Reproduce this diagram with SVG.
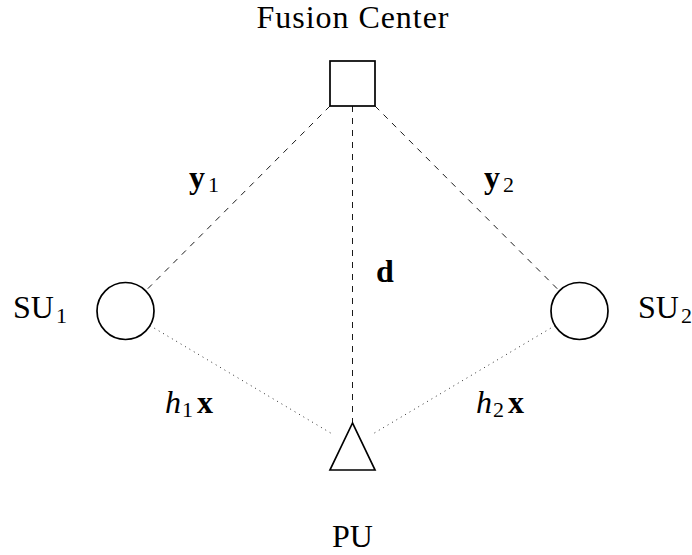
<svg xmlns="http://www.w3.org/2000/svg" width="692" height="555" viewBox="0 0 692 555">
<style>
.node{fill:#fff;stroke:#000;stroke-width:1.7}
.dash{stroke:#000;stroke-width:0.9;stroke-dasharray:6,6;fill:none}
.dot{stroke:#000;stroke-width:0.9;stroke-dasharray:0.9,4.2;fill:none}
text{font-family:"Liberation Serif","DejaVu Serif",serif;font-size:32px;fill:#000}
.sub{font-size:22px;font-weight:normal;font-style:normal}
.b{font-weight:bold}
.i{font-style:italic}
</style>
<rect width="692" height="555" fill="#fff"/>
<g id="connectors">
<line class="dash" x1="330" y1="106" x2="145.7" y2="290.8"/>
<line class="dash" x1="352.5" y1="106" x2="352.5" y2="423"/>
<line class="dash" x1="375" y1="106" x2="559.3" y2="290.8"/>
<line class="dot" x1="150" y1="325.6" x2="334" y2="435"/>
<line class="dot" x1="555" y1="325.6" x2="371" y2="435"/>
</g>
<g id="fusion-center">
<rect class="node" x="330" y="61" width="45" height="45"/>
<text x="352.5" y="28" text-anchor="middle" textLength="192">Fusion Center</text>
</g>
<g id="su1">
<circle class="node" cx="125.5" cy="311" r="28.5"/>
<text x="13" y="318">SU<tspan class="sub" dx="2" dy="5">1</tspan></text>
</g>
<g id="su2">
<circle class="node" cx="579.5" cy="311" r="28.5"/>
<text x="638" y="318">SU<tspan class="sub" dx="2" dy="5">2</tspan></text>
</g>
<g id="pu">
<polygon class="node" points="352.5,423 330,470 375,470"/>
<text x="352.5" y="547" text-anchor="middle">PU</text>
</g>
<g id="labels">
<text x="189" y="188" class="b">y<tspan class="sub" dx="3" dy="4">1</tspan></text>
<text x="484" y="188" class="b">y<tspan class="sub" dx="3" dy="4">2</tspan></text>
<text x="376" y="282" class="b">d</text>
<text x="165" y="413"><tspan class="i">h</tspan><tspan class="sub" dx="1" dy="4">1</tspan><tspan class="b" dx="4" dy="-4">x</tspan></text>
<text x="476" y="413"><tspan class="i">h</tspan><tspan class="sub" dx="1" dy="4">2</tspan><tspan class="b" dx="4" dy="-4">x</tspan></text>
</g>
</svg>
